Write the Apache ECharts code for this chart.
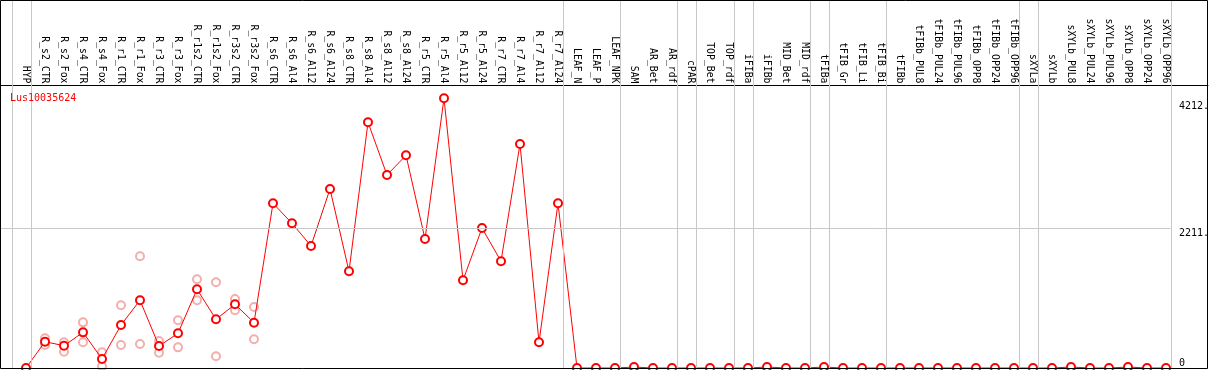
<!DOCTYPE html>
<html>
<head>
<meta charset="utf-8">
<script src="https://cdn.jsdelivr.net/npm/echarts@6/dist/echarts.min.js"></script>
<style>
  html, body { margin: 0; padding: 0; background: #fff; }
  #chart { width: 1209px; height: 370px; }
</style>
</head>
<body>
<div id="chart"></div>
<script>
// sample names, left to right
const categories = [
  'HYP',
  'R_s2_CTR', 'R_s2_Fox', 'R_s4_CTR', 'R_s4_Fox', 'R_r1_CTR', 'R_r1_Fox',
  'R_r3_CTR', 'R_r3_Fox', 'R_r1s2_CTR', 'R_r1s2_Fox', 'R_r3s2_CTR', 'R_r3s2_Fox',
  'R_s6_CTR', 'R_s6_Al4', 'R_s6_Al12', 'R_s6_Al24',
  'R_s8_CTR', 'R_s8_Al4', 'R_s8_Al12', 'R_s8_Al24',
  'R_r5_CTR', 'R_r5_Al4', 'R_r5_Al12', 'R_r5_Al24',
  'R_r7_CTR', 'R_r7_Al4', 'R_r7_Al12', 'R_r7_Al24',
  'LEAF_N', 'LEAF_P', 'LEAF_NPK',
  'SAM', 'AR_Bet', 'AR_rdf',
  'cPAR',
  'TOP_Bet', 'TOP_rdf',
  'iFIBa',
  'iFIBb', 'MID_Bet', 'MID_rdf',
  'tFIBa',
  'tFIB_Gr', 'tFIB_Li', 'tFIB_Bi',
  'tFIBb', 'tFIBb_PUL8', 'tFIBb_PUL24', 'tFIBb_PUL96', 'tFIBb_OPP8', 'tFIBb_OPP24', 'tFIBb_OPP96',
  'sXYLa',
  'sXYLb', 'sXYLb_PUL8', 'sXYLb_PUL24', 'sXYLb_PUL96', 'sXYLb_OPP8', 'sXYLb_OPP24', 'sXYLb_OPP96'
];

// mean expression per sample (red line)
const meanValues = [
  0,
  415, 352, 563, 142, 679, 1069,
  347, 548, 1243, 769, 1006, 716,
  2601, 2285, 1927, 2827,
  1527, 3880, 3048, 3359,
  2037, 4259, 1385, 2211,
  1685, 3538, 406, 2601,
  0, 0, 0,
  15, 0, 0,
  0,
  0, 0,
  0,
  15, 0, 0,
  15,
  0, 0, 0,
  0, 0, 0, 0, 0, 0, 0,
  0,
  0, 15, 0, 0, 15, 0, 0
];

// replicate values, starting at R_s2_CTR
const repStart = 1;
const repHigh = [469, 406, 721, 248, 990, 1764, 426, 753, 1401, 1353, 1090, 963];
const repLow  = [365, 258, 406, 27, 363, 379, 242, 326, 1069, 185, 911, 453];

// last sample index of each group (grey separators)
const groupEnds = [-1, 0, 28, 31, 34, 35, 37, 38, 41, 42, 45, 52, 53, 60];

// y axis labels
const yTicks = [2211, 4212];
const yBottomTick = [0];

const MONO = "'DejaVu Sans Mono', monospace";
const GREY = '#c8c8c8';

const chart = echarts.init(document.getElementById('chart'));

const xMin = -1.3158;
const xMax = 62.21;
const yMax = 5796;

const replicates = [];
repHigh.forEach((v, k) => replicates.push([repStart + k, v]));
repLow.forEach((v, k) => replicates.push([repStart + k, v]));

const sepLines = groupEnds.map(k => ({ xAxis: k + 0.25 }));
sepLines.push([{ coord: [xMin, 2211] }, { coord: [60.25, 2211] }]);

const option = {
  animation: false,
  backgroundColor: '#fff',
  title: {
    text: 'Lus10035624',
    left: 5,
    top: 88,
    textStyle: { color: '#ff0000', fontFamily: MONO, fontSize: 10, fontWeight: 'normal' }
  },
  graphic: [{
    type: 'rect',
    shape: { x: 0.5, y: 0.5, width: 1207, height: 368 },
    style: { fill: null, stroke: '#000', lineWidth: 1 },
    z: 100
  }],
  grid: { left: 1, right: 1, top: 1, bottom: 2, outerBoundsMode: 'none' },
  xAxis: {
    type: 'value',
    position: 'top',
    offset: -84.5,
    min: xMin,
    max: xMax,
    axisLine: { show: true, onZero: false, lineStyle: { color: '#000', width: 1 } },
    axisTick: { show: false },
    splitLine: { show: false },
    axisLabel: {
      customValues: categories.map((c, i) => i),
      formatter: v => categories[Math.round(v)] || '',
      rotate: 90,
      margin: 2,
      color: '#000',
      fontFamily: MONO,
      fontSize: 9.8
    }
  },
  yAxis: [{
    type: 'value',
    position: 'right',
    offset: -31,
    min: 0,
    max: yMax,
    axisLine: { show: false },
    axisTick: { show: false },
    splitLine: { show: false },
    axisLabel: {
      customValues: yTicks,
      formatter: v => v + '.',
      verticalAlign: 'top',
      margin: 2,
      color: '#000',
      fontFamily: MONO,
      fontSize: 10
    }
  }, {
    type: 'value',
    position: 'right',
    offset: -31,
    min: 0,
    max: yMax,
    axisLine: { show: false },
    axisTick: { show: false },
    splitLine: { show: false },
    axisLabel: {
      customValues: yBottomTick,
      formatter: v => String(v),
      verticalAlign: 'bottom',
      margin: 2,
      color: '#000',
      fontFamily: MONO,
      fontSize: 10
    }
  }],
  series: [{
    type: 'scatter',
    name: 'replicates',
    data: replicates,
    symbol: 'emptyCircle',
    symbolSize: 8,
    itemStyle: { color: '#f09a9a', borderWidth: 1.5 },
    z: 2,
    markLine: {
      silent: true,
      symbol: 'none',
      label: { show: false },
      lineStyle: { color: GREY, width: 1, type: 'solid' },
      data: sepLines
    }
  }, {
    type: 'line',
    name: 'mean',
    data: meanValues.map((v, i) => [i, v]),
    symbol: 'emptyCircle',
    symbolSize: 8,
    lineStyle: { color: '#ff0000', width: 1 },
    itemStyle: { color: '#ff0000', borderWidth: 1.5 },
    z: 3
  }]
};

chart.setOption(option);
</script>
</body>
</html>
